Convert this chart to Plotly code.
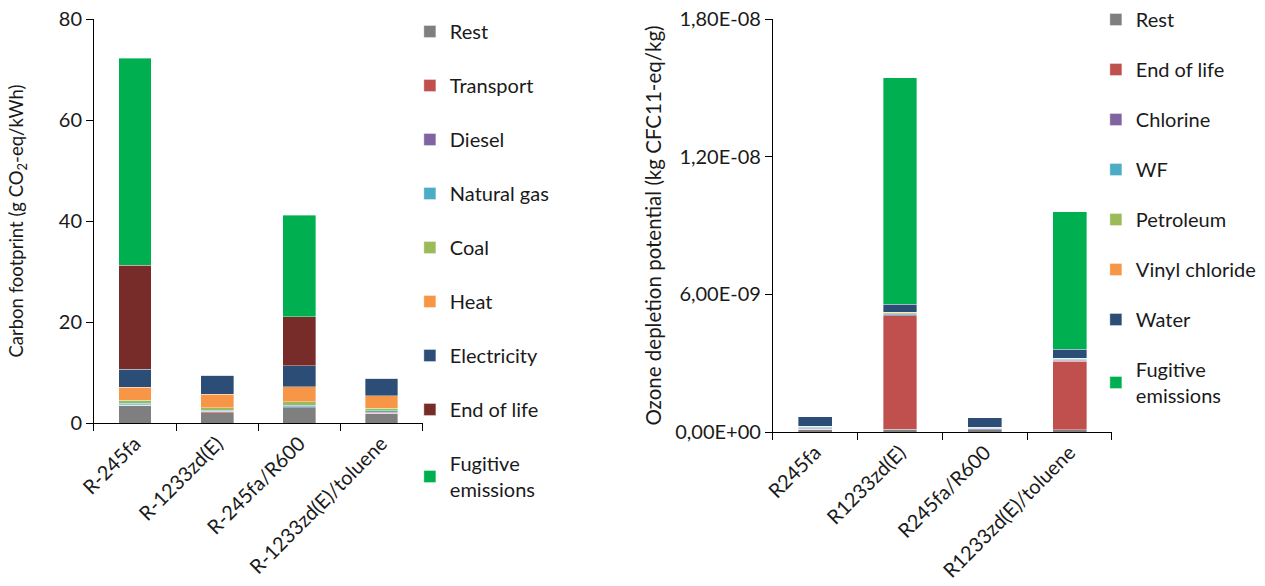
import plotly.graph_objects as go

# ---- Carbon footprint (g CO2-eq/kWh) ----
cf_categories = ["R-245fa", "R-1233zd(E)", "R-245fa/R600", "R-1233zd(E)/toluene"]
cf_rest = [3.5, 2.0, 3.0, 1.85]
cf_transport = [0.05, 0.2, 0.05, 0.05]
cf_diesel = [0.1, 0.1, 0.15, 0.25]
cf_natural_gas = [0.3, 0.25, 0.35, 0.25]
cf_coal = [0.6, 0.5, 0.65, 0.55]
cf_heat = [2.55, 2.65, 2.95, 2.5]
cf_electricity = [3.6, 3.8, 4.2, 3.4]
cf_end_of_life = [20.5, 0.0, 9.7, 0.0]
cf_fugitive = [41.0, 0.1, 20.1, 0.1]

cf_series = [
    ("Rest", cf_rest, "#7F7F7F"),
    ("Transport", cf_transport, "#C0504D"),
    ("Diesel", cf_diesel, "#8064A2"),
    ("Natural gas", cf_natural_gas, "#4BACC6"),
    ("Coal", cf_coal, "#9BBB59"),
    ("Heat", cf_heat, "#F79646"),
    ("Electricity", cf_electricity, "#2C4D75"),
    ("End of life", cf_end_of_life, "#772C2A"),
    ("Fugitive<br>emissions", cf_fugitive, "#00B050"),
]
cf_ticks = [0, 20, 40, 60, 80]

# ---- Ozone depletion potential (kg CFC11-eq/kg) ----
odp_categories = ["R245fa", "R1233zd(E)", "R245fa/R600", "R1233zd(E)/toluene"]
odp_rest = [1.1e-10, 1.3e-10, 0.9e-10, 0.9e-10]
odp_end_of_life = [0.0, 4.94e-9, 0.0, 3.0e-9]
odp_chlorine = [0.6e-10, 0.3e-10, 0.6e-10, 0.4e-10]
odp_wf = [0.3e-10, 0.5e-10, 0.2e-10, 0.4e-10]
odp_petroleum = [0.4e-10, 0.4e-10, 0.4e-10, 0.4e-10]
odp_vinyl_chloride = [0.05e-10, 0.2e-10, 0.05e-10, 0.1e-10]
odp_water = [4.1e-10, 3.6e-10, 4.1e-10, 3.8e-10]
odp_fugitive = [0.0, 9.88e-9, 0.0, 5.99e-9]

odp_series = [
    ("Rest", odp_rest, "#7F7F7F"),
    ("End of life", odp_end_of_life, "#C0504D"),
    ("Chlorine", odp_chlorine, "#8064A2"),
    ("WF", odp_wf, "#4BACC6"),
    ("Petroleum", odp_petroleum, "#9BBB59"),
    ("Vinyl chloride", odp_vinyl_chloride, "#F79646"),
    ("Water", odp_water, "#2C4D75"),
    ("Fugitive<br>emissions", odp_fugitive, "#00B050"),
]
odp_tickvals = [0, 6e-9, 1.2e-8, 1.8e-8]
odp_ticktext = ["0,00E+00", "6,00E-09", "1,20E-08", "1,80E-08"]

FONT = "Lato"
TXT = "#1a1a1a"

fig = go.Figure()

for i, (name, vals, color) in enumerate(cf_series):
    fig.add_trace(go.Bar(
        x=cf_categories, y=vals, name=name, marker_color=color,
        marker_line=dict(color="rgba(255,255,255,0.6)", width=0.6),
        xaxis="x", yaxis="y", legend="legend", legendgroup=f"cf{i}",
    ))

for i, (name, vals, color) in enumerate(odp_series):
    fig.add_trace(go.Bar(
        x=odp_categories, y=vals, name=name, marker_color=color,
        marker_line=dict(color="rgba(255,255,255,0.6)", width=0.6),
        xaxis="x2", yaxis="y2", legend="legend2", legendgroup=f"odp{i}",
    ))

axis_common = dict(
    showline=True, linecolor="#000", linewidth=1, showgrid=False,
    zeroline=False, ticks="outside", tickcolor="#000", ticklen=7,
    automargin=False,
)
xtick_font = dict(family=FONT, size=20, color=TXT)
ytick_font = dict(family=FONT, size=20, color=TXT)

fig.update_layout(
    width=1265, height=586,
    margin=dict(l=0, r=0, t=17, b=154),
    paper_bgcolor="white", plot_bgcolor="white",
    barmode="stack", bargap=0.6,
    font=dict(family=FONT, size=20, color=TXT),
    xaxis=dict(domain=[0.0743, 0.334], anchor="y", tickangle=-45,
               tickson="boundaries", tickfont=xtick_font, **axis_common),
    yaxis=dict(domain=[0.0217, 1.0], anchor="x", range=[0, 80],
               tickvals=cf_ticks, tickfont=ytick_font,
               title=dict(text="Carbon footprint (g CO<sub>2</sub>-eq/kWh)",
                          font=dict(family=FONT, size=18.5, color=TXT), standoff=30),
               **axis_common),
    xaxis2=dict(domain=[0.611, 0.879], anchor="y2", tickangle=-45,
                tickson="boundaries", tickfont=xtick_font, **axis_common),
    yaxis2=dict(domain=[0.0, 1.0], anchor="x2", range=[0, 1.8e-8],
                tickvals=odp_tickvals, ticktext=odp_ticktext, tickfont=ytick_font,
                title=dict(text="Ozone depletion potential (kg CFC11-eq/kg)",
                           font=dict(family=FONT, size=20.5, color=TXT), standoff=8),
                **axis_common),
    legend=dict(x=0.324, xanchor="left", y=1.017, yanchor="top",
                traceorder="grouped", tracegroupgap=25, maxheight=586,
                font=dict(family=FONT, size=20, color=TXT),
                bgcolor="rgba(0,0,0,0)"),
    legend2=dict(x=0.8663, xanchor="left", y=1.047, yanchor="top",
                 traceorder="grouped", tracegroupgap=21, maxheight=586,
                 font=dict(family=FONT, size=20, color=TXT),
                 bgcolor="rgba(0,0,0,0)"),
)

fig.write_html("out.html")
